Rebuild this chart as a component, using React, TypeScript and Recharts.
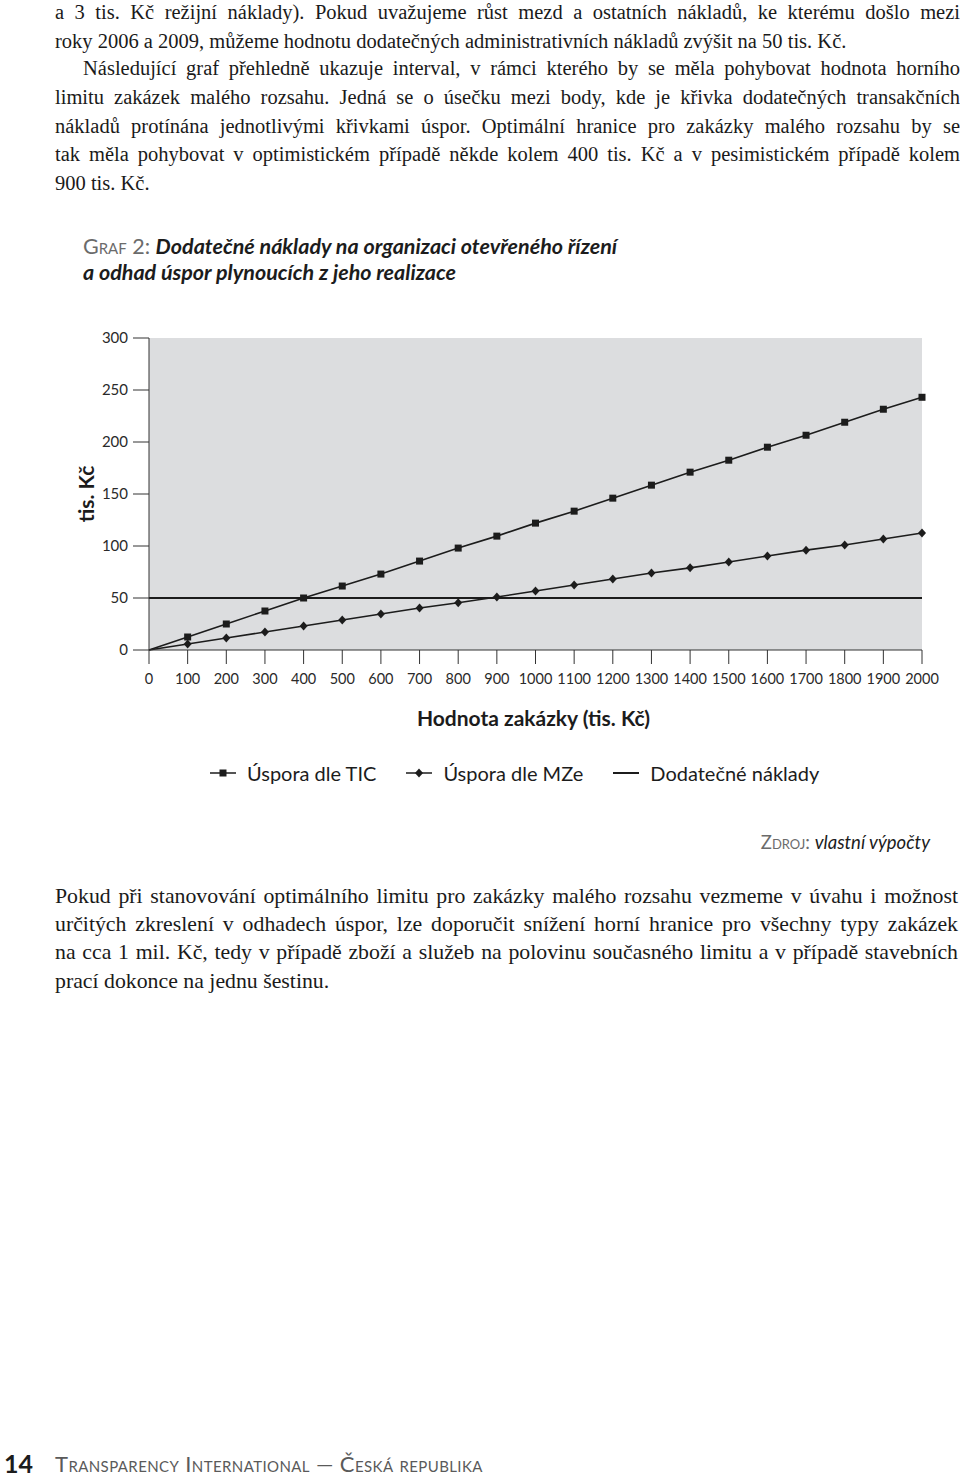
import React from 'react';
import { LineChart, Line, XAxis, YAxis, CartesianGrid, Legend, Label } from 'recharts';

// hodnota zakázky (tis. Kč)
const zakazka = [0, 100, 200, 300, 400, 500, 600, 700, 800, 900, 1000, 1100, 1200, 1300, 1400, 1500, 1600, 1700, 1800, 1900, 2000];
// úspora dle TIC (tis. Kč)
const usporaTIC = [0, 12.5, 25, 37.5, 50, 61.5, 73, 85.5, 98, 109.5, 122, 133.5, 146, 158.5, 171, 182.5, 195, 206.5, 219, 231.5, 243];
// úspora dle MZe (tis. Kč)
const usporaMZe = [0, 5.8, 11.5, 17.3, 23, 28.8, 34.6, 40.4, 45.5, 51, 56.7, 62.5, 68.3, 74, 79, 84.6, 90.4, 96, 101, 106.7, 112.5];
// dodatečné náklady (tis. Kč)
const dodatecneNaklady = [50, 50, 50, 50, 50, 50, 50, 50, 50, 50, 50, 50, 50, 50, 50, 50, 50, 50, 50, 50, 50];

const xTicks = [0, 100, 200, 300, 400, 500, 600, 700, 800, 900, 1000, 1100, 1200, 1300, 1400, 1500, 1600, 1700, 1800, 1900, 2000];
const yTicks = [0, 50, 100, 150, 200, 250, 300];

const data = zakazka.map((x, i) => ({
  x,
  tic: usporaTIC[i],
  mze: usporaMZe[i],
  naklady: dodatecneNaklady[i],
}));

const INK = '#1c1c1c';
const SANS = 'Lato, "Open Sans", sans-serif';
const SERIF = '"Liberation Serif", serif';

const topLines = [
  { text: 'a 3 tis. Kč režijní náklady). Pokud uvažujeme růst mezd a ostatních nákladů, ke kterému došlo mezi', y: 12, indent: 0, justify: true },
  { text: 'roky 2006 a 2009, můžeme hodnotu dodatečných administrativních nákladů zvýšit na 50 tis. Kč.', y: 41, indent: 0, justify: false },
  { text: 'Následující graf přehledně ukazuje interval, v rámci kterého by se měla pohybovat hodnota horního', y: 68, indent: 28, justify: true },
  { text: 'limitu zakázek malého rozsahu. Jedná se o úsečku mezi body, kde je křivka dodatečných transakčních', y: 97, indent: 0, justify: true },
  { text: 'nákladů protínána jednotlivými křivkami úspor. Optimální hranice pro zakázky malého rozsahu by se', y: 126, indent: 0, justify: true },
  { text: 'tak měla pohybovat v optimistickém případě někde kolem 400 tis. Kč a v pesimistickém případě kolem', y: 154, indent: 0, justify: true },
  { text: '900 tis. Kč.', y: 183, indent: 0, justify: false },
];

const bottomLines = [
  { text: 'Pokud při stanovování optimálního limitu pro zakázky malého rozsahu vezmeme v úvahu i možnost', y: 896, justify: true },
  { text: 'určitých zkreslení v odhadech úspor, lze doporučit snížení horní hranice pro všechny typy zakázek', y: 924, justify: true },
  { text: 'na cca 1 mil. Kč, tedy v případě zboží a služeb na polovinu současného limitu a v případě stavebních', y: 952, justify: true },
  { text: 'prací dokonce na jednu šestinu.', y: 981, justify: false },
];

const TextLine = ({ text, y, left, width, size, lh, justify, font }: any) => (
  <div
    style={{
      position: 'absolute',
      left,
      top: y - lh / 2,
      width,
      fontFamily: font,
      fontSize: size,
      lineHeight: `${lh}px`,
      color: '#1a1a1a',
      textAlign: justify ? 'justify' : 'left',
      textAlignLast: justify ? 'justify' : 'left',
      whiteSpace: 'nowrap',
    }}
  >
    {text}
  </div>
);

const SquareDot = (props: any) => {
  const { cx, cy, index } = props;
  if (index === 0 || cx == null) return <g key={`s-${index}`} />;
  return <rect key={`s-${index}`} x={cx - 3.5} y={cy - 3.5} width={7} height={7} fill={INK} />;
};

const DiamondDot = (props: any) => {
  const { cx, cy, index } = props;
  if (index === 0 || cx == null) return <g key={`d-${index}`} />;
  return <path key={`d-${index}`} d={`M${cx},${cy - 4.5}L${cx + 4},${cy}L${cx},${cy + 4.5}L${cx - 4},${cy}Z`} fill={INK} />;
};

const YTitle = (props: any) => {
  const { viewBox } = props;
  const x = viewBox.x + 16;
  const y = viewBox.y + viewBox.height / 2;
  return (
    <text x={x} y={y} transform={`rotate(-90 ${x} ${y})`} textAnchor="middle" dominantBaseline="central"
      style={{ fontFamily: SANS, fontSize: 21, fontWeight: 700, fill: INK }}>
      tis. Kč
    </text>
  );
};

const XTitle = (props: any) => {
  const { viewBox } = props;
  const x = viewBox.x + viewBox.width / 2 - 2;
  const y = viewBox.y + 67;
  return (
    <text x={x} y={y} textAnchor="middle" dominantBaseline="central"
      style={{ fontFamily: SANS, fontSize: 21, fontWeight: 700, fill: INK }}>
      Hodnota zakázky (tis. Kč)
    </text>
  );
};

const legendItems = [
  { name: 'Úspora dle TIC', marker: 'square' },
  { name: 'Úspora dle MZe', marker: 'diamond' },
  { name: 'Dodatečné náklady', marker: 'none' },
];

const LegendContent = () => (
  <div style={{ display: 'flex', alignItems: 'center', paddingLeft: 210, fontFamily: SANS, fontSize: 20, color: INK }}>
    {legendItems.map((it) => (
      <div key={it.name} style={{ display: 'flex', alignItems: 'center', marginRight: 30 }}>
        <svg width={26} height={12} style={{ marginRight: 11 }}>
          <line x1={0} y1={6} x2={26} y2={6} stroke={INK} strokeWidth={it.marker === 'none' ? 2 : 1.5} />
          {it.marker === 'square' && <rect x={9.5} y={2.5} width={7} height={7} fill={INK} />}
          {it.marker === 'diamond' && <path d="M13,1.5L17,6L13,10.5L9,6Z" fill={INK} />}
        </svg>
        <span>{it.name}</span>
      </div>
    ))}
  </div>
);

const App: React.FC = () => {
  return (
    <div style={{ position: 'absolute', left: 0, top: 0, width: 960, height: 1477, background: '#fff', overflow: 'hidden' }}>
      {topLines.map((l) => (
        <TextLine key={l.y} text={l.text} y={l.y} left={55 + l.indent} width={905 - l.indent} size={20.5} lh={28} justify={l.justify} font={SERIF} />
      ))}

      {/* title */}
      <div style={{ position: 'absolute', left: 83, top: 233, fontFamily: SANS, fontSize: 21.5, lineHeight: '26px', color: INK }}>
        <span style={{ fontVariant: 'small-caps', color: '#6b6b6b', fontWeight: 400 }}>Graf 2:</span>{' '}
        <span style={{ fontWeight: 700, fontStyle: 'italic' }}>Dodatečné náklady na organizaci otevřeného řízení</span>
        <br />
        <span style={{ fontWeight: 700, fontStyle: 'italic' }}>a odhad úspor plynoucích z jeho realizace</span>
      </div>

      <div style={{ position: 'absolute', left: 0, top: 300 }}>
        <LineChart width={960} height={500} data={data} margin={{ top: 38, right: 38, left: 69, bottom: 60 }}>
          <CartesianGrid fill="#dcdddf" stroke="none" horizontal={false} vertical={false} />
          <XAxis
            dataKey="x"
            type="number"
            domain={[0, 2000]}
            ticks={xTicks}
            interval={0}
            height={90}
            tickSize={14}
            tickMargin={10}
            stroke="#333"
            tick={{ fontFamily: SANS, fontSize: 14.5, fill: '#2a2a2a' }}
          >
            <Label content={XTitle} />
          </XAxis>
          <YAxis
            type="number"
            domain={[0, 300]}
            ticks={yTicks}
            interval={0}
            width={80}
            tickSize={16}
            tickMargin={5}
            stroke="#333"
            tick={{ fontFamily: SANS, fontSize: 15, fill: '#2a2a2a' }}
          >
            <Label content={YTitle} />
          </YAxis>
          <Line dataKey="naklady" name="Dodatečné náklady" stroke={INK} strokeWidth={2.2} dot={false} isAnimationActive={false} />
          <Line dataKey="tic" name="Úspora dle TIC" stroke={INK} strokeWidth={1.6} dot={SquareDot} activeDot={false} isAnimationActive={false} />
          <Line dataKey="mze" name="Úspora dle MZe" stroke={INK} strokeWidth={1.6} dot={DiamondDot} activeDot={false} isAnimationActive={false} />
          <Legend layout="horizontal" verticalAlign="middle" align="center" content={LegendContent}
            wrapperStyle={{ top: 461, left: 0, width: 960 }} />
        </LineChart>
      </div>

      {/* source */}
      <div style={{ position: 'absolute', right: 30, top: 830, fontFamily: SANS, fontSize: 18.5, lineHeight: '24px', color: INK }}>
        <span style={{ fontVariant: 'small-caps', color: '#6b6b6b' }}>Zdroj:</span>{' '}
        <span style={{ fontStyle: 'italic' }}>vlastní výpočty</span>
      </div>

      {bottomLines.map((l) => (
        <TextLine key={l.y} text={l.text} y={l.y} left={55} width={903} size={21.8} lh={28} justify={l.justify} font={SERIF} />
      ))}

      {/* footer */}
      <div style={{ position: 'absolute', left: 4, top: 1453, fontFamily: SANS, fontSize: 25, fontWeight: 700, lineHeight: '20px', color: INK }}>
        14
      </div>
      <div style={{ position: 'absolute', left: 55, top: 1454, fontFamily: SANS, fontSize: 22, lineHeight: '20px', color: '#5a5a5a', fontVariant: 'small-caps', letterSpacing: 0.4 }}>
        Transparency International — Česká republika
      </div>
    </div>
  );
};

export default App;
